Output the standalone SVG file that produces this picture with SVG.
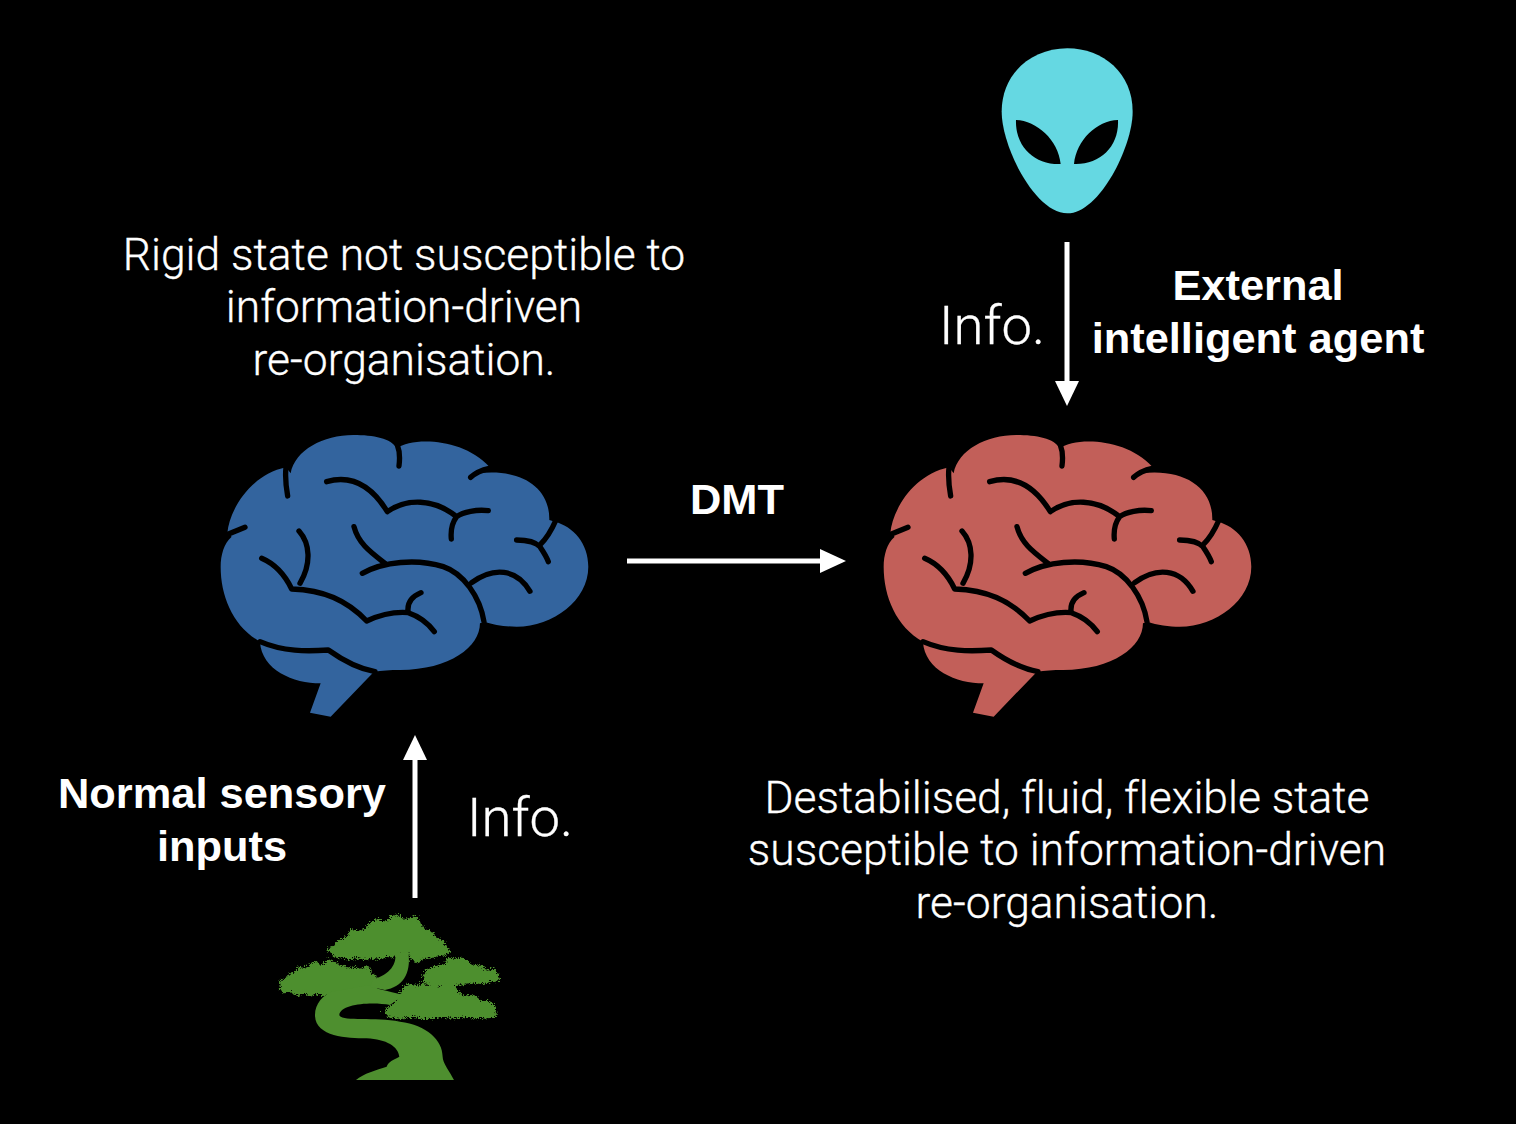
<svg xmlns="http://www.w3.org/2000/svg" width="1516" height="1124" viewBox="0 0 1516 1124">
<style>
text{fill:#fff;text-anchor:middle;font-variant-ligatures:none}
.l{font-family:Roboto,"Liberation Sans",sans-serif;font-weight:300;font-size:44.4px;stroke:#fff;stroke-width:.3px}
.b{font-family:"Liberation Sans",Arial,sans-serif;font-weight:700;font-size:43.4px}
.i{font-family:Roboto,"Liberation Sans",sans-serif;font-weight:300;font-size:54.5px;stroke:#fff;stroke-width:.3px}
.arrow{fill:none;stroke:#fff;stroke-width:5}
.head{fill:#fff}
.crease{fill:none;stroke:#000;stroke-width:16;stroke-linecap:round;stroke-linejoin:round}
.leaf{stroke:#4e8f2f;stroke-width:10;stroke-linejoin:round}
</style>
<defs>
<filter id="rough" x="-5%" y="-10%" width="110%" height="120%" filterUnits="objectBoundingBox">
<feTurbulence type="turbulence" baseFrequency="0.16" numOctaves="1" seed="7"/>
<feDisplacementMap in="SourceGraphic" scale="22" xChannelSelector="R" yChannelSelector="G"/>
</filter>
<g id="brain" transform="scale(0.3333)">
<path d="M62 440C62 405 72 370 95 350L82 340C88 270 150 165 258 142L272 160C285 90 370 45 460 45C520 45 575 55 590 85C640 50 790 55 868 140L835 160C960 145 1050 200 1048 300L1065 305C1120 320 1165 370 1165 440C1165 540 1060 620 950 620C920 620 880 615 855 605L840 610C840 680 750 750 600 750C570 750 545 752 522 755L392 890L330 878L362 790C280 790 185 750 180 665C100 620 62 530 62 440Z"/>
<path class="crease" d="M258 142C255 170 258 200 263 228M592 75C600 95 600 115 597 138M868 145C845 150 825 160 812 172M1068 300C1055 330 1040 355 1020 375M950 360C985 360 1010 370 1020 380C1030 395 1040 410 1045 425M78 345L135 322M380 185C450 165 510 190 562 275C620 235 700 235 770 290C790 275 830 268 865 272M770 290C755 310 752 335 754 357M462 320C475 370 510 395 555 430M487 460C550 425 650 415 730 440C790 460 840 530 852 605M815 488C880 440 950 445 990 514M185 415C220 430 250 455 275 507C370 510 440 540 500 603C550 580 590 575 625 578C660 590 685 610 703 635M625 578C620 550 635 530 663 518M297 333C330 370 335 430 300 490M180 665C250 695 320 695 385 690C420 715 470 745 525 755"/>
</g>
</defs>
<rect width="1516" height="1124" fill="#000"/>
<g id="brain-blue" transform="translate(200 420)" fill="#33649e"><use href="#brain"/></g>
<g id="brain-red" transform="translate(863 420)" fill="#c25f59"><use href="#brain"/></g>
<g id="alien" transform="translate(980 30) scale(0.3333)">
<path fill="#65d8e2" d="M262 55C370 55 458 130 458 245C458 350 358 550 262 550C165 550 65 350 65 245C65 130 155 55 262 55Z"/>
<path fill="#000" d="M108 270C170 272 235 330 242 402C165 405 105 350 108 270ZM414 270C350 272 290 330 282 402C360 405 418 350 414 270Z"/>
</g>
<g id="tree" transform="translate(260 900) scale(0.3333)" fill="#4e8f2f">
<g filter="url(#rough)" class="leaf" transform="translate(-6 -6)">
<path d="M205 148L222 140 232 125 250 122 262 112 272 92 295 96 315 88 330 72 350 60 365 66 385 66 397 48 418 50 430 62 448 60 468 52 476 72 495 92 512 98 530 118 548 125 552 142 565 152 548 162 530 160 522 168 500 168 485 172 470 182 455 172 448 155 440 152 405 165 380 162 360 172 335 168 310 175 290 168 270 172 245 168 225 165Z"/>
<path d="M62 245L80 235 95 222 110 215 120 202 135 208 155 195 165 185 175 198 195 195 200 180 220 188 235 198 250 200 265 210 290 205 300 212 320 200 330 222 345 235 345 262 300 275 215 278 195 284 175 276 155 282 130 276 110 280 90 270 65 272Z"/>
<path d="M490 228L505 210 530 200 555 195 565 175 590 180 610 178 630 195 660 200 680 215 700 210 715 235 695 240 670 245 640 242 610 247 585 250 575 280 545 262 550 250 520 250 500 245Z"/>
<path d="M378 330L395 318 415 300 430 265 450 255 470 262 485 250 505 262 520 250 535 265 560 260 590 275 610 295 635 285 660 305 680 305 700 320 703 345 680 347 650 350 620 345 590 350 550 345 500 352 450 345 420 352 385 345Z"/>
</g>
<path d="M288 540C310 520 350 510 380 500C385 485 400 480 418 470C415 440 380 418 320 415C260 415 165 410 165 345C165 310 190 285 215 275L330 255C350 268 380 272 430 285L390 315C340 305 240 310 238 345C240 365 340 350 420 365C500 375 548 420 548 470C548 490 570 515 582 540Z"/>
<path d="M405 160C412 190 390 225 340 238L330 260L375 270C425 260 455 225 445 155Z"/>
</g>
<g id="connectors">
<path class="arrow" d="M415 898V755"/><path class="head" d="M415 735L427 760H403Z"/>
<path class="arrow" d="M1067 242V385"/><path class="head" d="M1067 406L1079 381H1055Z"/>
<path class="arrow" d="M627 561H825"/><path class="head" d="M846 561L820 549V573Z"/>
</g>
<g id="labels">
<text class="l"><tspan x="404" y="270">Rigid state not susceptible to</tspan><tspan x="404" y="322">information-driven</tspan><tspan x="404" y="375">re-organisation.</tspan></text>
<text class="l"><tspan x="1067" y="813">Destabilised, fluid, flexible state</tspan><tspan x="1067" y="865">susceptible to information-driven</tspan><tspan x="1067" y="918">re-organisation.</tspan></text>
<text class="b"><tspan x="1258" y="300">External</tspan><tspan x="1258" y="353">intelligent agent</tspan></text>
<text class="b"><tspan x="222" y="808">Normal sensory</tspan><tspan x="222" y="861">inputs</tspan></text>
<text class="b" x="737" y="514">DMT</text>
<text class="i" x="992" y="344">Info.</text>
<text class="i" x="520" y="836">Info.</text>
</g>
</svg>
